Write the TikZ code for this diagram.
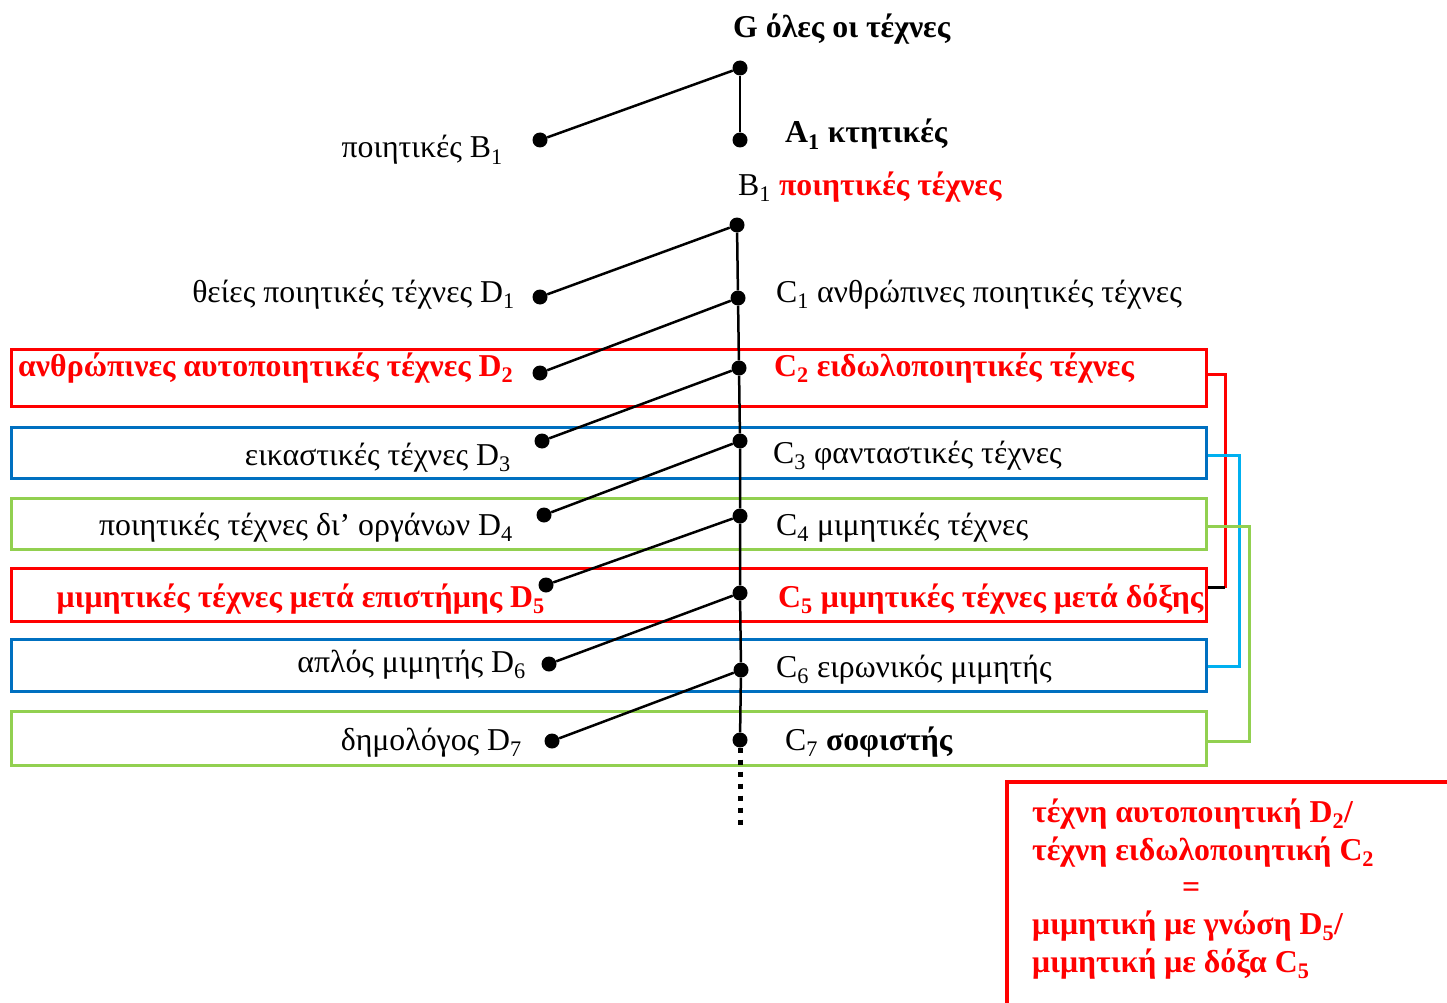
\documentclass[tikz,border=0pt]{standalone}
\usepackage{fontspec}
\setmainfont{Liberation Serif}
\usetikzlibrary{calc}
\definecolor{cred}{HTML}{FF0000}
\definecolor{cblue}{HTML}{0070C0}
\definecolor{ccyan}{HTML}{00B0F0}
\definecolor{cgreen}{HTML}{92D050}
\newcommand\sbs[1]{\textsubscript{#1}}
\begin{document}
\begin{tikzpicture}[x=1pt,y=-1pt,
  dot/.style={circle,fill=black,inner sep=0pt,minimum size=15pt},
  lbl/.style={inner sep=0pt,font=\fontsize{31.8}{36}\selectfont},
  conn/.style={line width=2.5pt,black},
  boxst/.style={draw,line width=3pt,minimum width=1195pt,anchor=north west,inner sep=0pt},
  link/.style={line width=3pt},
  hl/.style={text=cred,font=\bfseries\fontsize{31.8}{36}\selectfont}
]
\useasboundingbox (0,0) rectangle (1447,1003);

% boxes
\node[boxst,draw=cred,minimum height=57pt] (bx1) at (10,348) {};
\node[boxst,draw=cblue,minimum height=51pt] (bx2) at (10,426) {};
\node[boxst,draw=cgreen,minimum height=51pt] (bx3) at (10,497) {};
\node[boxst,draw=cred,minimum height=53pt] (bx4) at (10,567) {};
\node[boxst,draw=cblue,minimum height=52pt] (bx5) at (10,638) {};
\node[boxst,draw=cgreen,minimum height=54pt] (bx6) at (10,710) {};

% right-side links
\coordinate (e1) at ([yshift=3.5pt]bx1.east);
\coordinate (e4) at ([yshift=7.5pt]bx4.east);
\coordinate (e2) at ([yshift=-2.5pt]bx2.east);
\coordinate (e5) at ([yshift=-1pt]bx5.east);
\coordinate (e3) at ([yshift=-2.5pt]bx3.east);
\coordinate (e6) at ([yshift=-3pt]bx6.east);
\draw[link,cred] (e1) -- ++(17,0) coordinate (rc) -- (rc |- e4);
\draw[link,black] (rc |- e4) -- (e4);
\draw[link,ccyan] (e2) -- ++(31,0) coordinate (bc) -- (bc |- e5) -- (e5);
\draw[link,cgreen] (e3) -- ++(41,0) coordinate (gc) -- (gc |- e6) -- (e6);

% dots
\node[dot] (s0) at (740,68) {};
\node[dot] (a1) at (740,140) {};
\node[dot] (p1) at (540,140) {};
\node[dot] (b0) at (737,225) {};
\node[dot] (s1) at (738,298) {};
\node[dot] (s2) at (739,368) {};
\node[dot] (s3) at (740,441) {};
\node[dot] (s4) at (740,516) {};
\node[dot] (s5) at (740,593) {};
\node[dot] (s6) at (741,670) {};
\node[dot] (s7) at (740,740) {};
\node[dot] (d1) at (540,297) {};
\node[dot] (d2) at (540,373) {};
\node[dot] (d3) at (542,441) {};
\node[dot] (d4) at (544,515) {};
\node[dot] (d5) at (546,585) {};
\node[dot] (d6) at (549,664) {};
\node[dot] (d7) at (552,741) {};
\coordinate (tail) at (740,828);

% connectors
\draw[conn] (s0) -- (p1);
\draw[conn] (s0) -- (a1);
\draw[conn] (b0) -- (s1) -- (s2) -- (s3) -- (s4) -- (s5) -- (s6) -- (s7);
\draw[line width=5pt,dash pattern=on 5pt off 7pt] (s7) -- (tail);
\draw[conn] (b0) -- (d1);
\draw[conn] (s1) -- (d2);
\draw[conn] (s2) -- (d3);
\draw[conn] (s3) -- (d4);
\draw[conn] (s4) -- (d5);
\draw[conn] (s5) -- (d6);
\draw[conn] (s6) -- (d7);

% labels
\node[lbl,anchor=base west] (tG) at (733,38) {\textbf{G όλες οι τέχνες}};
\node[lbl,anchor=base east] (tB1) at (503,158) {ποιητικές B\sbs{1}};
\node[lbl,anchor=base west] (tA1) at (785,143) {\textbf{A\sbs{1} κτητικές}};
\node[lbl,anchor=base west] (tB1r) at (738,195) {B\sbs{1} \textcolor{cred}{\textbf{ποιητικές τέχνες}}};

\node[lbl,anchor=base east] (tD1) at (515,302) {θείες ποιητικές τέχνες D\sbs{1}};
\node[lbl,anchor=base west] (tC1) at (776,302) {C\sbs{1} ανθρώπινες ποιητικές τέχνες};
\node[lbl,hl,anchor=base west] (tD2) at (18,376) {ανθρώπινες αυτοποιητικές τέχνες D\sbs{2}};
\node[lbl,hl,anchor=base west] (tC2) at (774,376) {C\sbs{2} ειδωλοποιητικές τέχνες};
\node[lbl,anchor=base east] (tD3) at (511,465) {εικαστικές τέχνες D\sbs{3}};
\node[lbl,anchor=base west] (tC3) at (773,463) {C\sbs{3} φανταστικές τέχνες};
\node[lbl,anchor=base east] (tD4) at (513,535) {ποιητικές τέχνες δι’ οργάνων D\sbs{4}};
\node[lbl,anchor=base west] (tC4) at (776,535) {C\sbs{4} μιμητικές τέχνες};
\node[lbl,hl,anchor=base east] (tD5) at (545,607) {μιμητικές τέχνες μετά επιστήμης D\sbs{5}};
\node[lbl,hl,anchor=base west] (tC5) at (778,607) {C\sbs{5} μιμητικές τέχνες μετά δόξης};
\node[lbl,anchor=base east] (tD6) at (526,672) {απλός μιμητής D\sbs{6}};
\node[lbl,anchor=base west] (tC6) at (776,677) {C\sbs{6} ειρωνικός μιμητής};
\node[lbl,anchor=base east] (tD7) at (522,750) {δημολόγος D\sbs{7}};
\node[lbl,anchor=base west] (tC7) at (785,750) {C\sbs{7} \textbf{σοφιστής}};

% note box
\draw[cred,line width=4pt] (1007,1003) -- (1007,782) -- (1447,782);
\node[inner sep=0pt,anchor=base west,align=left,text=cred,font=\bfseries\fontsize{31.8}{37.3}\selectfont] (note) at (1032,972)
  {τέχνη αυτοποιητική D\sbs{2}/\\
   τέχνη ειδωλοποιητική C\sbs{2}\\
   \hspace*{150pt}=\\
   μιμητική με γνώση D\sbs{5}/\\
   μιμητική με δόξα C\sbs{5}};
\end{tikzpicture}
\end{document}
